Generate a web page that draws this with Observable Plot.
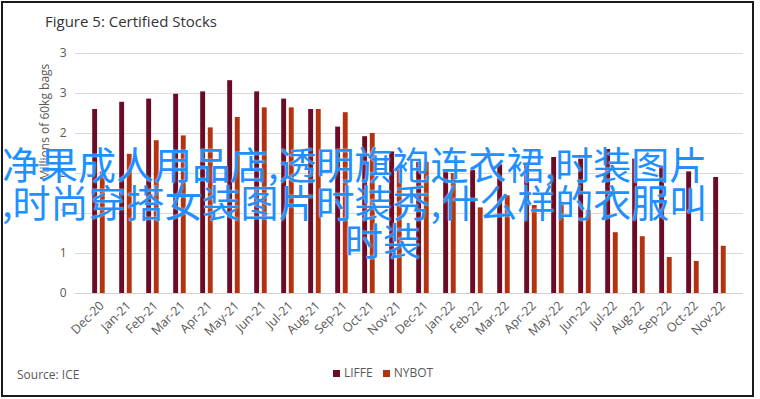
<!DOCTYPE html>
<html>
<head>
<meta charset="utf-8">
<script src="https://cdn.jsdelivr.net/npm/d3@7"></script>
<script src="https://cdn.jsdelivr.net/npm/@observablehq/plot@0.6"></script>
<style>
  html, body { margin: 0; padding: 0; background: #fff; }
  #wrap { position: relative; width: 760px; height: 399px; overflow: hidden; background: #fff; font-family: "Open Sans", sans-serif; }
  #frame { position: absolute; left: 1px; top: 1px; width: 749px; height: 392px; border: 2px solid #1a1a1a; }
  #chart { position: absolute; left: 0; top: 0; }
  #title { position: absolute; left: 45px; top: 14px; font-size: 15px; line-height: 15px; color: #333; white-space: nowrap; }
  #ylab { position: absolute; left: 45px; top: 122px; transform: translate(-50%, -50%) rotate(-90deg); font-size: 12px; line-height: 12px; color: #595959; white-space: nowrap; }
  #source { position: absolute; left: 17px; top: 369px; font-size: 12px; line-height: 12px; color: #595959; white-space: nowrap; }
  #legend { position: absolute; left: 333px; top: 367px; font-size: 12px; line-height: 12px; color: #595959; display: flex; align-items: center; white-space: nowrap; }
  #legend .sw { display: inline-block; width: 7px; height: 7px; margin-right: 4px; }
  #legend .item { display: inline-flex; align-items: center; margin-right: 10px; }
  .wm { position: absolute; font-family: "Noto Sans CJK SC", sans-serif; font-size: 38px; line-height: 38px; color: #1e90ff; white-space: nowrap; text-shadow: 0 0 2px rgba(255,255,255,0.9); }
</style>
</head>
<body>
<div id="wrap">
  <div id="frame"></div>
  <div id="chart"></div>
  <div id="title"></div>
  <div id="ylab"></div>
  <div id="source"></div>
  <div id="legend"></div>
  <div id="wm"></div>
</div>
<script>
const titleText = "Figure 5: Certified Stocks";
const yLabelText = "Millions of 60kg bags";
const sourceText = "Source: ICE";
const months = ["Dec-20","Jan-21","Feb-21","Mar-21","Apr-21","May-21","Jun-21","Jul-21","Aug-21","Sep-21","Oct-21","Nov-21",
                "Dec-21","Jan-22","Feb-22","Mar-22","Apr-22","May-22","Jun-22","Jul-22","Aug-22","Sep-22","Oct-22","Nov-22"];
const series = ["LIFFE", "NYBOT"];
const colors = ["#6b0b26", "#b3320f"];
const liffe = [2.30, 2.39, 2.43, 2.49, 2.52, 2.66, 2.52, 2.43, 2.30, 2.08, 1.96, 1.77,
               1.64, 1.52, 1.54, 1.61, 1.60, 1.70, 1.68, 1.80, 1.68, 1.59, 1.52, 1.45];
const nybot = [1.52, 1.74, 1.91, 1.97, 2.07, 2.20, 2.32, 2.32, 2.30, 2.26, 2.00, 1.58,
               1.64, 1.50, 1.07, 1.22, 1.10, 1.14, 1.04, 0.76, 0.71, 0.45, 0.40, 0.59];
const yTicks = [0, 0.5, 1, 1.5, 2, 2.5, 3];
const yTickLabels = ["0", "1", "1", "2", "2", "3", "3"];
const overlayLines = ["净果成人用品店,透明旗袍连衣裙,时装图片", ",时尚穿搭女装图片时装秀,什么样的衣服叫", "时装"];

const rows = months.map((m, i) => ({month: m, LIFFE: liffe[i], NYBOT: nybot[i]}));

const chart = Plot.plot({
  width: 760,
  height: 360,
  marginLeft: 75,
  marginRight: 17,
  marginTop: 53,
  marginBottom: 67,
  style: {fontFamily: "Open Sans, sans-serif", fontSize: "12px", color: "#595959", background: "transparent"},
  x: {domain: months, padding: 0},
  y: {domain: [0, 3]},
  color: {domain: series, range: colors},
  marks: [
    Plot.gridY(yTicks, {stroke: "#d9d9d9", strokeOpacity: 1, strokeWidth: 1}),
    Plot.barY(rows, {x: "month", y: "LIFFE", fill: colors[0], insetLeft: 7.2, insetRight: 14.9}),
    Plot.barY(rows, {x: "month", y: "NYBOT", fill: colors[1], insetLeft: 14.8, insetRight: 7.3}),
    Plot.ruleY([0], {stroke: "#d0d0d0"}),
    Plot.axisY({ticks: yTicks, tickFormat: d => yTickLabels[yTicks.indexOf(d)], tickSize: 0, tickPadding: 9, label: null}),
    Plot.axisX({tickRotate: -45, tickSize: 0, tickPadding: 10, dx: 3, fontSize: 12.5, label: null})
  ]
});
document.getElementById("chart").appendChild(chart);

document.getElementById("title").textContent = titleText;
document.getElementById("ylab").textContent = yLabelText;
document.getElementById("source").textContent = sourceText;

const legend = document.getElementById("legend");
series.forEach((s, i) => {
  const item = document.createElement("span");
  item.className = "item";
  const sw = document.createElement("span");
  sw.className = "sw";
  sw.style.background = colors[i];
  item.appendChild(sw);
  item.appendChild(document.createTextNode(s));
  legend.appendChild(item);
});

const wmPos = [[2, 144], [2, 182], [345, 220]];
const wm = document.getElementById("wm");
overlayLines.forEach((t, i) => {
  const d = document.createElement("div");
  d.className = "wm";
  d.style.left = wmPos[i][0] + "px";
  d.style.top = wmPos[i][1] + "px";
  d.textContent = t;
  wm.appendChild(d);
});
</script>
</body>
</html>
